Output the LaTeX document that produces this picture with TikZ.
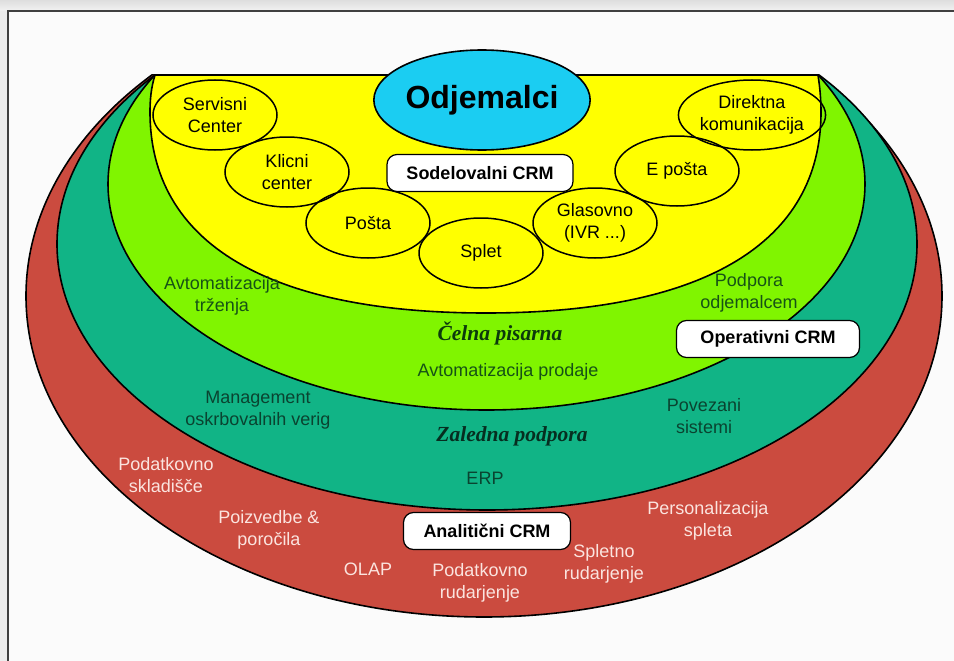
\documentclass[tikz,border=0pt]{standalone}
\usepackage{fontspec}
\setmainfont{Liberation Sans}
\newfontfamily\headserif{Liberation Serif}
\usetikzlibrary{shapes.geometric}
\definecolor{layerred}{HTML}{CB4B3F}
\definecolor{layerteal}{HTML}{11B486}
\definecolor{layergreen}{HTML}{80F500}
\definecolor{layeryellow}{HTML}{FFFF00}
\definecolor{clientcyan}{HTML}{1BCDF2}
\definecolor{greentext}{HTML}{165216}
\definecolor{greendark}{HTML}{0C3A0C}
\definecolor{tealtext}{HTML}{0A4330}
\definecolor{tealdark}{HTML}{062E20}
\definecolor{redtext}{HTML}{FBE4DF}
\begin{document}
\begin{tikzpicture}[x=1pt,y=-1pt,
  every node/.style={inner sep=0pt, align=center, font=\fontsize{18}{22}\selectfont},
  layer/.style={draw=black, line width=1.6pt},
  channel/.style={ellipse, draw=black, line width=1.5pt, minimum width=124pt, minimum height=70pt},
  crmbox/.style={draw=black, fill=white, line width=1.2pt, rounded corners=10pt,
    minimum height=37pt, font=\bfseries\fontsize{18}{22}\selectfont},
  zone/.style={font=\headserif\bfseries\itshape\fontsize{21.5}{26}\selectfont},
  greenlbl/.style={text=greentext},
  teallbl/.style={text=tealtext},
  redlbl/.style={text=redtext},
]
\useasboundingbox (0,0) rectangle (954,661);

% page background and frame
\fill[black!7] (0,0) rectangle (954,661);
\shade[top color=black!13, bottom color=black!5] (0,0) rectangle (954,11);
\fill[black!1.5] (8,11) rectangle (960,670);
\draw[black!75, line width=1.5pt] (8,670) -- (8,11) -- (960,11);

% nested layers, cut off at the common top edge
\begin{scope}
  \clip (0,75) rectangle (954,661);
  \filldraw[layer, fill=layerred]   (484,296)   ellipse [x radius=458pt,   y radius=321pt];
  \filldraw[layer, fill=layerteal]  (487,244)   ellipse [x radius=430pt,   y radius=266pt];
  \filldraw[layer, fill=layergreen] (486.5,184) ellipse [x radius=378.5pt, y radius=226pt];
\end{scope}
\filldraw[layer, fill=layeryellow]
  (155,75) .. controls (151,88) and (150,100) .. (150,112)
  .. controls (150,243) and (268,313) .. (486,313)
  .. controls (704,313) and (821,243) .. (821,112)
  .. controls (821,100) and (820,88) .. (818,75) -- cycle;
\draw[line width=2.6pt] (155,75) -- (818,75);

% contact channels
\node[channel] (servis) at (215,115) {Servisni\\Center};
\node[channel] (klicni) at (287,172) {Klicni\\center};
\node[channel] (posta)  at (368,223) {Pošta};
\node[channel] (splet)  at (481,253) {Splet};
\node[channel] (glas)   at (595,223) {Glasovno\\(IVR ...)};
\node[channel] (eposta) at (677,171) {E pošta};
\node[channel] (direkt) at (752,115) {Direktna\\komunikacija};

% customers
\node[ellipse, draw=black, fill=clientcyan, line width=1.6pt,
      minimum width=214pt, minimum height=100pt,
      font=\bfseries\fontsize{32}{38}\selectfont] (clients) at (482,100) {Odjemalci};

% CRM labels
\node[crmbox, minimum width=186pt] (sodel) at (480,173) {Sodelovalni CRM};
\node[crmbox, minimum width=183pt] (oper)  at (768,339) {Operativni CRM};
\node[crmbox, minimum width=167pt] (anal)  at (487,531) {Analitični CRM};

% front office
\node[greenlbl] (trzenje)  at (222,296) {Avtomatizacija\\trženja};
\node[greenlbl] (podpora)  at (749,293) {Podpora\\odjemalcem};
\node[zone, text=greendark] (front) at (500,333) {Čelna pisarna};
\node[greenlbl] (prodaja)  at (508,372) {Avtomatizacija prodaje};

% back office
\node[teallbl] (scm)   at (258,410) {Management\\oskrbovalnih verig};
\node[teallbl] (povez) at (704,416) {Povezani\\sistemi};
\node[zone, text=tealdark] (back) at (512,436) {Zaledna podpora};
\node[teallbl] (erp)   at (485,478) {ERP};

% analytics
\node[redlbl] (skladisce) at (166,475) {Podatkovno\\skladišče};
\node[redlbl] (poizvedbe) at (269,530) {Poizvedbe \&\\poročila};
\node[redlbl] (olap)      at (368,569) {OLAP};
\node[redlbl] (datamine)  at (480,583) {Podatkovno\\rudarjenje};
\node[redlbl] (webmine)   at (604,564) {Spletno\\rudarjenje};
\node[redlbl] (personal)  at (708,521) {Personalizacija\\spleta};
\end{tikzpicture}
\end{document}
